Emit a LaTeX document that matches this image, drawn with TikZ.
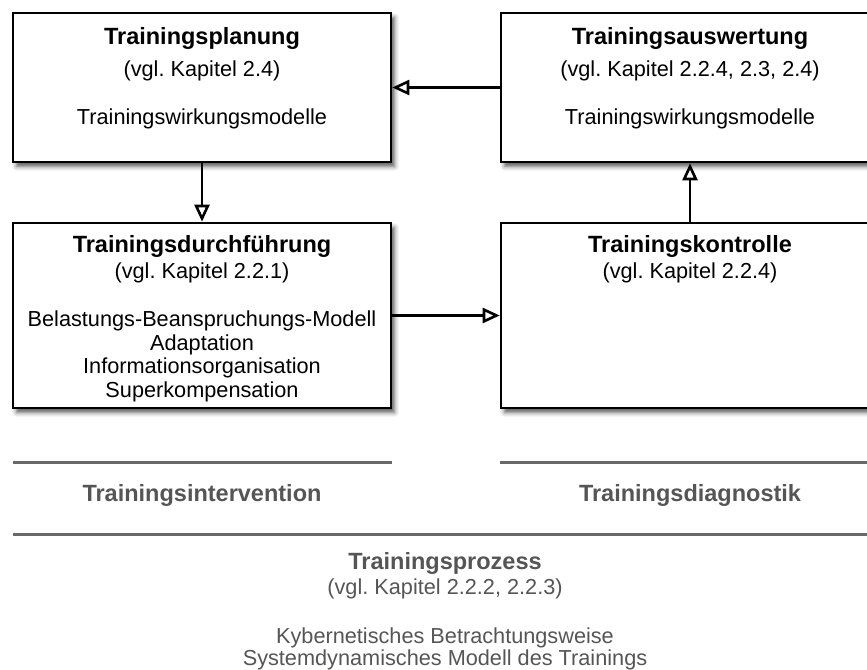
\documentclass[tikz,border=0pt]{standalone}
\usepackage{fontspec}
\setmainfont{Liberation Sans}
\usetikzlibrary{arrows.meta,shadows.blur}

\definecolor{labelgray}{RGB}{85,85,85}
\definecolor{rulegray}{RGB}{105,105,105}

\frenchspacing

\begin{document}
\begin{tikzpicture}[x=1pt,y=-1pt,
  box/.style={draw=black, line width=2.6pt, fill=white, inner sep=0pt,
    minimum width=378pt,
    blur shadow={shadow xshift=3.5pt, shadow yshift=-4.5pt,
      shadow blur radius=4.5pt, shadow opacity=65}},
  topbox/.style={box, minimum height=149pt},
  lowbox/.style={box, minimum height=185pt},
  head/.style={anchor=base, inner sep=0pt, font=\fontsize{23.5}{25}\selectfont\bfseries},
  body/.style={anchor=base, inner sep=0pt, font=\fontsize{21.7}{23.5}\selectfont},
  flow/.style={line width=2.2pt,
    -{Triangle[open, length=17pt, width=15pt, line width=2.6pt]}},
  sepline/.style={draw=rulegray, line width=3pt},
  grayhead/.style={head, text=labelgray},
  graybody/.style={body, text=labelgray}]

\path[use as bounding box, clip] (0,0) rectangle (867,669);

% four process boxes
\node[topbox] (plan)   at (202,87.5)  {};
\node[topbox] (eval)   at (690,87.5)  {};
\node[lowbox] (exec)   at (202,315.5) {};
\node[lowbox] (ctrl)   at (690,315.5) {};

% Trainingsplanung
\node[head] (planT) at (202,45)  {Trainingsplanung};
\node[body] (planR) at (202,76)  {(vgl. Kapitel 2.4)};
\node[body] (planM) at (202,124) {Trainingswirkungsmodelle};

% Trainingsauswertung
\node[head] (evalT) at (690,45)  {Trainingsauswertung};
\node[body] (evalR) at (690,76)  {(vgl. Kapitel 2.2.4, 2.3, 2.4)};
\node[body] (evalM) at (690,124) {Trainingswirkungsmodelle};

% Trainingsdurchfuehrung
\node[head] (execT) at (202,252) {Trainingsdurchführung};
\node[body] (execR) at (202,278) {(vgl. Kapitel 2.2.1)};
\node[body] (execA) at (202,326.5) {Belastungs-Beanspruchungs-Modell};
\node[body] (execB) at (202,350) {Adaptation};
\node[body] (execC) at (202,373.5) {Informationsorganisation};
\node[body] (execD) at (202,397) {Superkompensation};

% Trainingskontrolle
\node[head] (ctrlT) at (690,252) {Trainingskontrolle};
\node[body] (ctrlR) at (690,278) {(vgl. Kapitel 2.2.4)};

% control loop
\draw[flow] (plan.south) -- (exec.north);
\draw[flow] (exec.east)  -- (ctrl.west);
\draw[flow] (ctrl.north) -- (eval.south);
\draw[flow] (eval.west)  -- (plan.east);

% grouping rules
\coordinate (ruleLa) at (13,462);
\coordinate (ruleLb) at (392,462);
\coordinate (ruleRa) at (500,462);
\coordinate (ruleRb) at (867,462);
\coordinate (ruleBa) at (13,534);
\coordinate (ruleBb) at (867,534);
\draw[sepline] (ruleLa) -- (ruleLb);
\draw[sepline] (ruleRa) -- (ruleRb);
\draw[sepline] (ruleBa) -- (ruleBb);

\node[grayhead] (interv) at (202,501) {Trainingsintervention};
\node[grayhead] (diagn)  at (690,501) {Trainingsdiagnostik};

\node[grayhead] (procT) at (445,569) {Trainingsprozess};
\node[graybody] (procR) at (445,594) {(vgl. Kapitel 2.2.2, 2.2.3)};
\node[graybody] (procA) at (445,643) {Kybernetisches Betrachtungsweise};
\node[graybody] (procB) at (445,665) {Systemdynamisches Modell des Trainings};
\end{tikzpicture}
\end{document}
